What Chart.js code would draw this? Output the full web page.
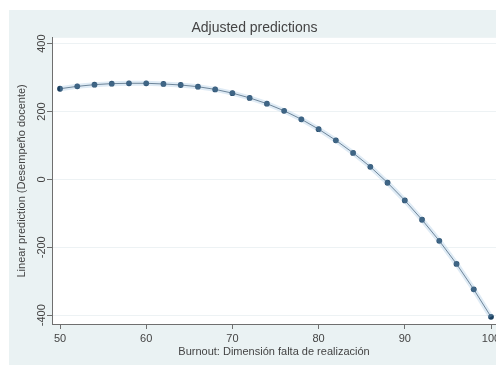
<!DOCTYPE html>
<html>
<head>
<meta charset="utf-8">
<script src="https://cdn.jsdelivr.net/npm/chart.js@4"></script>
<style>
  html, body { margin: 0; padding: 0; background: #ffffff; overflow: hidden; }
  #wrap { position: absolute; left: 9px; top: 10px; width: 491px; height: 355px; background: #eaf2f3; }
</style>
</head>
<body>
<div id="wrap"><canvas id="grafico"></canvas></div>
<script>
const burnout = [50, 52, 54, 56, 58, 60, 62, 64, 66, 68, 70, 72, 74, 76, 78, 80, 82, 84, 86, 88, 90, 92, 94, 96, 98, 100];
const prediccion = [267, 274, 279, 282, 283, 283, 281, 278, 273, 265, 254, 240, 223, 202, 177, 148, 115, 78, 37, -10, -62, -119, -181, -249, -324, -405];
const xTicks = [50, 60, 70, 80, 90, 100];
const yTicks = [-400, -200, 0, 200, 400];

const textColor = "#444444";
const axisColor = "#6f6f6f";
const font = "'Liberation Sans', Arial, sans-serif";

const points = burnout.map((x, i) => ({ x: x, y: prediccion[i] }));

const plotBackground = {
  id: "plotBackground",
  beforeDraw(chart) {
    const { ctx, chartArea } = chart;
    ctx.save();
    ctx.fillStyle = "#ffffff";
    ctx.fillRect(chartArea.left, chartArea.top, chartArea.right - chartArea.left, chartArea.bottom - chartArea.top);
    ctx.restore();
  },
};

function fixTicks(list) {
  return (scale) => { scale.ticks = list.map((v) => ({ value: v })); };
}

new Chart(document.getElementById("grafico"), {
  type: "scatter",
  data: {
    datasets: [
      {
        data: points,
        showLine: true,
        borderColor: "rgba(150, 190, 222, 0.3)",
        borderWidth: 5,
        pointRadius: 0,
      },
      {
        data: points,
        showLine: true,
        borderColor: "#5d6e7d",
        borderWidth: 1,
        pointRadius: 2.9,
        pointBackgroundColor: "#1a3f5f",
        pointBorderWidth: 0,
      },
    ],
  },
  options: {
    responsive: true,
    maintainAspectRatio: false,
    animation: false,
    layout: { padding: 0 },
    plugins: {
      legend: { display: false },
      tooltip: { enabled: false },
      title: {
        display: true,
        text: "Adjusted predictions",
        color: textColor,
        font: { family: font, size: 14, weight: "normal" },
        padding: { top: 10, bottom: 1 },
      },
    },
    scales: {
      x: {
        type: "linear",
        min: 49.07,
        max: 100.58,
        afterBuildTicks: fixTicks(xTicks),
        afterFit: (scale) => { scale.height = 41; scale.paddingLeft = 0; scale.paddingRight = 0; },
        border: { color: axisColor, width: 1 },
        grid: { drawOnChartArea: false, tickLength: 5, color: axisColor },
        ticks: { color: textColor, padding: 3, maxRotation: 0, font: { family: font, size: 11 } },
        title: {
          display: true,
          text: "Burnout: Dimensión falta de realización",
          color: textColor,
          font: { family: font, size: 11 },
          padding: { top: 0, bottom: 6 },
        },
      },
      y: {
        min: -426,
        max: 417,
        afterBuildTicks: fixTicks(yTicks),
        afterFit: (scale) => { scale.width = 43; scale.paddingTop = 0; scale.paddingBottom = 0; },
        border: { color: axisColor, width: 1 },
        grid: { color: "#edf2f4", tickColor: axisColor, tickLength: 5 },
        ticks: { color: textColor, padding: -6, minRotation: 90, maxRotation: 90, crossAlign: "center", font: { family: font, size: 11 } },
        title: {
          display: true,
          text: "Linear prediction (Desempeño docente)",
          color: textColor,
          font: { family: font, size: 11 },
          padding: { top: 6, bottom: 0 },
        },
      },
    },
  },
  plugins: [plotBackground],
});
</script>
</body>
</html>
